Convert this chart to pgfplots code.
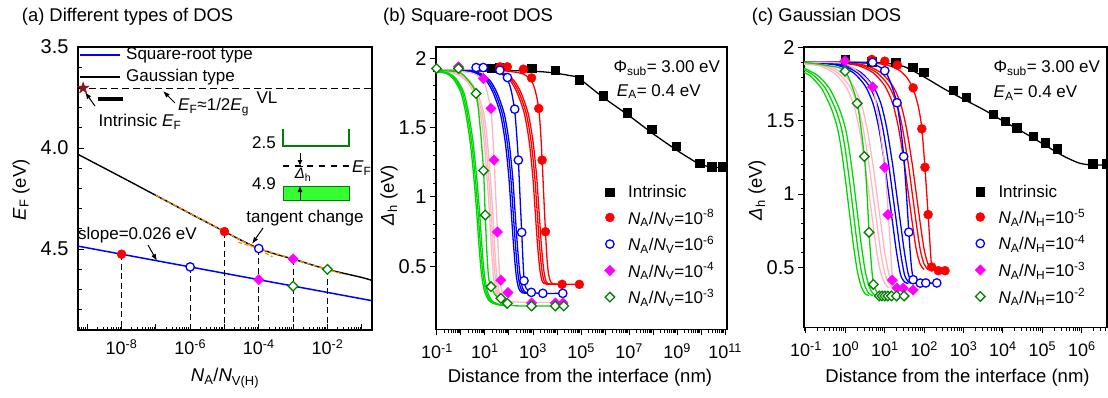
\documentclass[border=0pt]{standalone}
\usepackage{fontspec}
\setmainfont{Liberation Sans}
\usepackage{pgfplots}
\pgfplotsset{compat=1.18}
\usetikzlibrary{arrows.meta}

\definecolor{cred}{RGB}{255,0,0}
\definecolor{cblue}{RGB}{0,0,255}
\definecolor{cpink}{RGB}{255,182,193}
\definecolor{cgreen}{RGB}{0,215,0}
\definecolor{cmag}{RGB}{255,0,255}
\definecolor{cdgreen}{RGB}{0,128,0}
\definecolor{corange}{RGB}{255,140,0}
\definecolor{cstar}{RGB}{140,20,20}
\definecolor{cinset}{RGB}{51,255,51}

\pgfdeclareplotmark{dia}{%
  \pgfpathmoveto{\pgfqpoint{0pt}{\pgfplotmarksize}}%
  \pgfpathlineto{\pgfqpoint{\pgfplotmarksize}{0pt}}%
  \pgfpathlineto{\pgfqpoint{0pt}{-\pgfplotmarksize}}%
  \pgfpathlineto{\pgfqpoint{-\pgfplotmarksize}{0pt}}%
  \pgfpathclose\pgfusepathqstroke}
\pgfdeclareplotmark{dia*}{%
  \pgfpathmoveto{\pgfqpoint{0pt}{\pgfplotmarksize}}%
  \pgfpathlineto{\pgfqpoint{\pgfplotmarksize}{0pt}}%
  \pgfpathlineto{\pgfqpoint{0pt}{-\pgfplotmarksize}}%
  \pgfpathlineto{\pgfqpoint{-\pgfplotmarksize}{0pt}}%
  \pgfpathclose\pgfusepathqfillstroke}
\pgfdeclareplotmark{fstar}{%
  \pgfpathmoveto{\pgfpointpolar{90}{\pgfplotmarksize}}%
  \pgfpathlineto{\pgfpointpolar{126}{0.4\pgfplotmarksize}}%
  \pgfpathlineto{\pgfpointpolar{162}{\pgfplotmarksize}}%
  \pgfpathlineto{\pgfpointpolar{198}{0.4\pgfplotmarksize}}%
  \pgfpathlineto{\pgfpointpolar{234}{\pgfplotmarksize}}%
  \pgfpathlineto{\pgfpointpolar{270}{0.4\pgfplotmarksize}}%
  \pgfpathlineto{\pgfpointpolar{306}{\pgfplotmarksize}}%
  \pgfpathlineto{\pgfpointpolar{342}{0.4\pgfplotmarksize}}%
  \pgfpathlineto{\pgfpointpolar{18}{\pgfplotmarksize}}%
  \pgfpathlineto{\pgfpointpolar{54}{0.4\pgfplotmarksize}}%
  \pgfpathclose\pgfusepathqfillstroke}

\newcommand\mkminor[3]{%
  \gdef#1{}%
  \foreach \n in {#2,...,#3}{%
    \foreach \m in {0.30103,0.47712,0.60206,0.69897,0.77815,0.84510,0.90309,0.95424}{%
      \pgfmathparse{\n+\m}%
      \ifx#1\empty\xdef#1{\pgfmathresult}\else\xdef#1{#1,\pgfmathresult}\fi
    }%
  }%
}
\mkminor\minorA{-10}{-1}
\mkminor\minorB{-2}{11}
\mkminor\minorC{-2}{7}

\newcommand\fT{\fontsize{18.4}{22}\selectfont}
\newcommand\fL{\fontsize{18.5}{22}\selectfont}
\newcommand\fA{\fontsize{17}{20}\selectfont}
\newcommand\fK{\fontsize{18}{21}\selectfont}
\newcommand\fY{\fontsize{20}{23}\selectfont}
\newcommand\fS{\fontsize{15}{18}\selectfont}

\pgfplotsset{
  panel/.style={scale only axis, anchor=south west,
    xtick pos=bottom, ytick pos=left,
    xticklabel style={font=\fK}, yticklabel style={font=\fY},
    major tick length=6pt, minor tick length=3.5pt,
    tick style={black, line width=1pt},
    axis line style={line width=1.5pt},
  },
  cv/.style={line width=1.3pt, smooth, tension=0.45, mark=none, forget plot},
  mSq/.style={only marks, mark=square*, color=black, mark size=4.2pt},
  mRed/.style={only marks, mark=*, color=cred, mark size=4.5pt},
  mBlue/.style={only marks, mark=*, draw=cblue, fill=white, line width=1.3pt, mark size=4.2pt},
  mMag/.style={only marks, mark=dia*, color=cmag, mark size=5.2pt},
  mGrn/.style={only marks, mark=dia*, draw=cdgreen, fill=white, line width=1.3pt, mark size=4.8pt},
  vdash/.style={black, line width=1.2pt, dash pattern=on 6pt off 3.5pt, forget plot},
}

\begin{document}
\begin{tikzpicture}[x=1pt,y=1pt]
\path[use as bounding box] (0,0) rectangle (1108,397);

% ---------------- (a) ----------------
\begin{axis}[panel, at={(78pt,67pt)}, width=294pt, height=283pt,
  xmin=-9.27, xmax=-0.70, ymin=3.5, ymax=4.9, y dir=reverse,
  tick align=inside, axis line style={line width=1.2pt},
  xtick={-9,-8,-7,-6,-5,-4,-3,-2,-1},
  xticklabels={{},{10\textsuperscript{-8}},{},{10\textsuperscript{-6}},{},{10\textsuperscript{-4}},{},{10\textsuperscript{-2}},{}},
  minor xtick/.expanded={\minorA},
  ytick={3.5,4.0,4.5}, yticklabels={3.5,4.0,4.5},
  minor ytick={3.6,3.7,3.8,3.9,4.1,4.2,4.3,4.4,4.6,4.7,4.8},
  xticklabel style={yshift=-6pt}, yticklabel style={xshift=-6pt},
]
% Square-root type
\addplot[cblue, line width=1.5pt, forget plot] coordinates {(-9.27,4.485)(-0.70,4.755)};
% Gaussian type
\addplot[black, line width=1.4pt, smooth, tension=0.5, forget plot] coordinates {
 (-9.27,4.031)(-8,4.144)(-7,4.234)(-6,4.324)(-5,4.413)(-4.5,4.457)(-4,4.497)(-3.5,4.525)(-3,4.549)(-2,4.600)(-1,4.640)(-0.7,4.655)};
\addplot[corange, line width=1.2pt, dash pattern=on 4pt off 2.5pt, forget plot] coordinates {(-7,4.234)(-3.6,4.538)};
\addplot[corange, line width=1.2pt, dash pattern=on 4pt off 2.5pt, forget plot] coordinates {(-4.6,4.466)(-1.5,4.626)};
\addplot[black, line width=1.2pt, dash pattern=on 7pt off 4pt, forget plot] coordinates {(-9.27,3.704)(-0.70,3.704)};
\addplot[vdash] coordinates {(-8,4.525)(-8,4.9)};
\addplot[vdash] coordinates {(-6,4.588)(-6,4.9)};
\addplot[vdash] coordinates {(-5,4.413)(-5,4.9)};
\addplot[vdash] coordinates {(-4,4.497)(-4,4.9)};
\addplot[vdash] coordinates {(-3,4.549)(-3,4.9)};
\addplot[vdash] coordinates {(-2,4.600)(-2,4.9)};
\addplot[only marks, mark=fstar, mark size=6pt, color=cstar, forget plot] coordinates {(-9.12,3.703)};
\addplot[mRed, forget plot] coordinates {(-8,4.525)(-5,4.413)};
\addplot[mBlue, forget plot] coordinates {(-6,4.588)(-4,4.497)};
\addplot[mMag, forget plot] coordinates {(-4,4.651)(-3,4.549)};
\addplot[mGrn, forget plot] coordinates {(-3,4.683)(-2,4.600)};
\end{axis}

% ---------------- (b) ----------------
\begin{axis}[panel, at={(436pt,67.7pt)}, width=291pt, height=282.3pt,
  xmin=-1.04, xmax=11.08, ymin=0.046, ymax=2.08,
  tick align=outside,
  xtick={-1,0,1,2,3,4,5,6,7,8,9,10,11},
  xticklabels={{10\textsuperscript{-1}},{},{10\textsuperscript{1}},{},{10\textsuperscript{3}},{},{10\textsuperscript{5}},{},{10\textsuperscript{7}},{},{10\textsuperscript{9}},{},{10\textsuperscript{11}}},
  minor xtick/.expanded={\minorB},
  ytick={0.5,1,1.5,2}, yticklabels={0.5,1,1.5,2}, minor y tick num=4,
  xticklabel style={yshift=-5pt},
  legend style={at={(axis description cs:0.579,0.515)}, anchor=north west, draw=none, fill=none,
    font=\fA, row sep=8.5pt, inner sep=0pt, column sep=12pt, nodes={inner sep=1pt}},
  legend cell align=left,
]
% intrinsic curve
\addplot[cv, black] coordinates {(-1.04,1.91)(2,1.91)(3,1.905)(3.5,1.9)(4,1.89)(4.5,1.875)(4.9,1.855)(5.9,1.72)(7,1.585)(8,1.455)(9,1.335)(9.5,1.28)(9.9,1.24)(10.4,1.215)(11.08,1.21)};
% red curves
\addplot[cv, cred] coordinates {(-1.04,1.91)(1.5,1.91)(2.0,1.905)(2.6,1.885)(2.94,1.835)(3.1,1.76)(3.24,1.637)(3.32,1.46)(3.38,1.265)(3.45,1.0)(3.52,0.749)(3.58,0.56)(3.65,0.44)(3.75,0.385)(3.9,0.372)(4.21,0.370)(4.93,0.370)};
\addplot[cv, cred] coordinates {(-1.04,1.91)(1.3,1.905)(1.8,1.89)(2.2,1.84)(2.5,1.75)(2.8,1.6)(3.0,1.4)(3.15,1.15)(3.25,0.9)(3.35,0.65)(3.45,0.47)(3.55,0.39)(3.7,0.372)(4.0,0.37)};
\addplot[cv, cred] coordinates {(-1.04,1.91)(1.22,1.905)(1.72,1.89)(2.12,1.84)(2.42,1.75)(2.72,1.6)(2.92,1.4)(3.07,1.15)(3.17,0.9)(3.27,0.65)(3.37,0.47)(3.47,0.39)(3.62,0.372)(4.0,0.37)};
\addplot[cv, cred] coordinates {(-1.04,1.91)(1.14,1.905)(1.64,1.89)(2.04,1.84)(2.34,1.75)(2.64,1.6)(2.84,1.4)(2.99,1.15)(3.09,0.9)(3.19,0.65)(3.29,0.47)(3.39,0.39)(3.54,0.372)(4.0,0.37)};
% blue curves
\addplot[cv, cblue] coordinates {(-1.04,1.91)(1.0,1.91)(1.62,1.895)(1.935,1.845)(2.1,1.76)(2.238,1.62)(2.32,1.45)(2.39,1.265)(2.46,1.0)(2.53,0.744)(2.58,0.55)(2.624,0.42)(2.7,0.345)(2.93,0.312)(3.41,0.305)(4.24,0.305)};
\addplot[cv, cblue] coordinates {(-1.04,1.91)(0.3,1.905)(0.8,1.89)(1.2,1.84)(1.5,1.75)(1.8,1.6)(2.0,1.4)(2.15,1.15)(2.25,0.9)(2.35,0.65)(2.45,0.45)(2.55,0.35)(2.7,0.31)(3.0,0.305)};
\addplot[cv, cblue] coordinates {(-1.04,1.91)(0.22,1.905)(0.72,1.89)(1.12,1.84)(1.42,1.75)(1.72,1.6)(1.92,1.4)(2.07,1.15)(2.17,0.9)(2.27,0.65)(2.37,0.45)(2.47,0.35)(2.62,0.31)(3.0,0.305)};
\addplot[cv, cblue] coordinates {(-1.04,1.91)(0.14,1.905)(0.64,1.89)(1.04,1.84)(1.34,1.75)(1.64,1.6)(1.84,1.4)(1.99,1.15)(2.09,0.9)(2.19,0.65)(2.29,0.45)(2.39,0.35)(2.54,0.31)(3.0,0.305)};
% pink curves
\addplot[cv, cpink] coordinates {(-1.04,1.91)(-0.1,1.905)(0.5,1.89)(0.93,1.84)(1.1,1.75)(1.25,1.62)(1.32,1.45)(1.38,1.265)(1.45,1.0)(1.52,0.75)(1.57,0.55)(1.62,0.42)(1.7,0.32)(1.85,0.27)(2.1,0.245)(2.94,0.24)(4.25,0.24)};
\addplot[cv, cpink] coordinates {(-1.04,1.91)(-0.4,1.90)(0,1.88)(0.4,1.83)(0.7,1.74)(0.95,1.6)(1.1,1.4)(1.22,1.15)(1.32,0.9)(1.4,0.65)(1.48,0.45)(1.58,0.32)(1.72,0.27)(1.95,0.25)(2.2,0.245)};
\addplot[cv, cpink] coordinates {(-1.04,1.905)(-0.47,1.90)(-0.07,1.88)(0.33,1.83)(0.63,1.74)(0.88,1.6)(1.03,1.4)(1.15,1.15)(1.25,0.9)(1.33,0.65)(1.41,0.45)(1.51,0.32)(1.65,0.27)(1.88,0.25)(2.2,0.245)};
\addplot[cv, cpink] coordinates {(-1.04,1.905)(-0.54,1.90)(-0.14,1.88)(0.26,1.83)(0.56,1.74)(0.81,1.6)(0.96,1.4)(1.08,1.15)(1.18,0.9)(1.26,0.65)(1.34,0.45)(1.44,0.32)(1.58,0.27)(1.81,0.25)(2.2,0.245)};
% green curves
\addplot[cv, cgreen] coordinates {(-1.04,1.91)(-0.1,1.90)(0.3,1.84)(0.63,1.745)(0.8,1.5)(0.94,1.19)(1.01,0.87)(1.08,0.6)(1.15,0.42)(1.25,0.35)(1.45,0.29)(1.66,0.26)(1.93,0.233)(2.2,0.216)(2.94,0.214)(4.28,0.214)};
\addplot[cv, cgreen] coordinates {(-1.04,1.91)(-0.5,1.89)(-0.2,1.85)(0.1,1.76)(0.3,1.62)(0.5,1.4)(0.65,1.15)(0.77,0.9)(0.87,0.65)(0.97,0.45)(1.1,0.32)(1.3,0.25)(1.6,0.225)(1.9,0.216)};
\addplot[cv, cgreen] coordinates {(-1.04,1.905)(-0.56,1.89)(-0.26,1.85)(0.04,1.76)(0.24,1.62)(0.44,1.4)(0.59,1.15)(0.71,0.9)(0.81,0.65)(0.91,0.45)(1.04,0.32)(1.24,0.25)(1.54,0.225)(1.9,0.216)};
\addplot[cv, cgreen] coordinates {(-1.04,1.90)(-0.62,1.89)(-0.32,1.85)(-0.02,1.76)(0.18,1.62)(0.38,1.4)(0.53,1.15)(0.65,0.9)(0.75,0.65)(0.85,0.45)(0.98,0.32)(1.18,0.25)(1.48,0.225)(1.9,0.216)};
% markers
\addplot[mSq] coordinates {(1.25,1.927)(1.59,1.934)(2.94,1.927)(3.93,1.915)(4.93,1.843)(5.93,1.730)(6.93,1.608)(7.95,1.488)(8.96,1.365)(9.94,1.243)(10.44,1.219)(10.89,1.219)};
\addlegendentry{Intrinsic}
\addplot[mRed] coordinates {(1.62,1.937)(1.93,1.937)(2.6,1.92)(2.94,1.857)(3.24,1.637)(3.38,1.265)(3.52,0.749)(4.21,0.370)(4.93,0.370)};
\addlegendentry{\textit{N}\textsubscript{A}/\textit{N}\textsubscript{V}=10\textsuperscript{-8}}
\addplot[mBlue] coordinates {(0.63,1.932)(0.93,1.932)(1.62,1.913)(1.935,1.86)(2.238,1.632)(2.39,1.265)(2.53,0.744)(2.624,0.396)(2.93,0.312)(3.41,0.305)(4.24,0.305)};
\addlegendentry{\textit{N}\textsubscript{A}/\textit{N}\textsubscript{V}=10\textsuperscript{-6}}
\addplot[mMag] coordinates {(-0.10,1.937)(0.93,1.853)(1.25,1.637)(1.38,1.265)(1.52,0.747)(1.66,0.40)(1.96,0.31)(2.94,0.236)(3.93,0.236)(4.25,0.236)};
\addlegendentry{\textit{N}\textsubscript{A}/\textit{N}\textsubscript{V}=10\textsuperscript{-4}}
\addplot[mGrn] coordinates {(-1.02,1.925)(-0.10,1.925)(0.63,1.745)(0.94,1.19)(1.01,0.869)(1.25,0.353)(1.66,0.269)(1.93,0.233)(2.94,0.214)(3.93,0.214)(4.28,0.214)};
\addlegendentry{\textit{N}\textsubscript{A}/\textit{N}\textsubscript{V}=10\textsuperscript{-3}}
\end{axis}

% ---------------- (c) ----------------
\begin{axis}[panel, at={(804pt,69.7pt)}, width=303pt, height=280.3pt,
  xmin=-1.05, xmax=6.64, ymin=0.09, ymax=2.005,
  tick align=outside,
  xtick={-1,0,1,2,3,4,5,6},
  xticklabels={{10\textsuperscript{-1}},{10\textsuperscript{0}},{10\textsuperscript{1}},{10\textsuperscript{2}},{10\textsuperscript{3}},{10\textsuperscript{4}},{10\textsuperscript{5}},{10\textsuperscript{6}}},
  minor xtick/.expanded={\minorC},
  ytick={0.5,1,1.5,2}, yticklabels={0.5,1,1.5,2}, minor y tick num=4,
  xticklabel style={yshift=-5pt},
  legend style={at={(axis description cs:0.564,0.513)}, anchor=north west, draw=none, fill=none,
    font=\fA, row sep=8.5pt, inner sep=0pt, column sep=12pt, nodes={inner sep=1pt}},
  legend cell align=left,
]
\addplot[cv, black] coordinates {(-1.05,1.90)(0.5,1.90)(1.0,1.895)(1.5,1.87)(2.0,1.80)(2.5,1.72)(3.0,1.648)(3.5,1.578)(4.0,1.50)(4.5,1.425)(5.0,1.345)(5.5,1.265)(5.9,1.215)(6.2,1.20)(6.64,1.20)};
% red
\addplot[cv, cred] coordinates {(-1.05,1.90)(0,1.90)(0.67,1.895)(1.0,1.885)(1.32,1.855)(1.55,1.8)(1.72,1.72)(1.85,1.6)(1.94,1.45)(2.02,1.18)(2.10,0.86)(2.15,0.65)(2.19,0.51)(2.27,0.485)(2.36,0.48)(2.53,0.477)};
\addplot[cv, cred] coordinates {(-1.05,1.90)(0,1.895)(0.5,1.88)(0.9,1.83)(1.2,1.74)(1.4,1.62)(1.55,1.45)(1.7,1.2)(1.8,1.0)(1.9,0.8)(2.0,0.62)(2.1,0.52)(2.2,0.485)};
\addplot[cv, cred] coordinates {(-1.05,1.90)(-0.1,1.895)(0.4,1.88)(0.8,1.83)(1.1,1.74)(1.3,1.62)(1.45,1.45)(1.6,1.2)(1.7,1.0)(1.8,0.8)(1.9,0.62)(2.0,0.52)(2.1,0.485)};
\addplot[cv, cred] coordinates {(-1.05,1.895)(-0.2,1.895)(0.3,1.88)(0.7,1.83)(1.0,1.74)(1.2,1.62)(1.35,1.45)(1.5,1.2)(1.6,1.0)(1.7,0.8)(1.8,0.62)(1.9,0.52)(2.0,0.485)};
% blue
\addplot[cv, cblue] coordinates {(-1.05,1.90)(0,1.90)(0.69,1.89)(1.0,1.84)(1.15,1.76)(1.30,1.63)(1.40,1.46)(1.48,1.26)(1.55,1.0)(1.61,0.74)(1.67,0.52)(1.72,0.43)(1.8,0.40)(1.88,0.392)(2.32,0.392)};
\addplot[cv, cblue] coordinates {(-1.05,1.90)(-0.5,1.895)(0,1.88)(0.4,1.83)(0.7,1.74)(0.9,1.62)(1.05,1.45)(1.2,1.2)(1.3,1.0)(1.4,0.8)(1.5,0.6)(1.6,0.45)(1.7,0.40)(1.8,0.39)};
\addplot[cv, cblue] coordinates {(-1.05,1.90)(-0.6,1.895)(-0.1,1.88)(0.3,1.83)(0.6,1.74)(0.8,1.62)(0.95,1.45)(1.1,1.2)(1.2,1.0)(1.3,0.8)(1.4,0.6)(1.5,0.45)(1.6,0.40)(1.7,0.39)};
\addplot[cv, cblue] coordinates {(-1.05,1.895)(-0.7,1.895)(-0.2,1.88)(0.2,1.83)(0.5,1.74)(0.7,1.62)(0.85,1.45)(1.0,1.2)(1.1,1.0)(1.2,0.8)(1.3,0.6)(1.4,0.45)(1.5,0.40)(1.6,0.39)};
% pink
\addplot[cv, cpink] coordinates {(-1.05,1.90)(-0.5,1.90)(-0.01,1.89)(0.35,1.83)(0.69,1.73)(0.85,1.5)(1.0,1.18)(1.09,0.86)(1.15,0.6)(1.2,0.42)(1.32,0.36)(1.47,0.358)(1.72,0.345)};
\addplot[cv, cpink] coordinates {(-1.05,1.895)(-0.5,1.88)(-0.1,1.83)(0.2,1.74)(0.4,1.62)(0.55,1.45)(0.7,1.2)(0.8,1.0)(0.9,0.8)(1.0,0.6)(1.1,0.46)(1.2,0.39)(1.3,0.36)};
\addplot[cv, cpink] coordinates {(-1.05,1.89)(-0.6,1.88)(-0.2,1.83)(0.1,1.74)(0.3,1.62)(0.45,1.45)(0.6,1.2)(0.7,1.0)(0.8,0.8)(0.9,0.6)(1.0,0.46)(1.1,0.39)(1.2,0.36)};
\addplot[cv, cpink] coordinates {(-1.05,1.885)(-0.7,1.88)(-0.3,1.83)(0.0,1.74)(0.2,1.62)(0.35,1.45)(0.5,1.2)(0.6,1.0)(0.7,0.8)(0.8,0.6)(0.9,0.46)(1.0,0.39)(1.1,0.36)};
% green
\addplot[cv, cgreen] coordinates {(-1.05,1.90)(-0.5,1.88)(-0.01,1.84)(0.3,1.62)(0.48,1.26)(0.55,1.0)(0.6,0.74)(0.66,0.52)(0.71,0.39)(0.8,0.33)(0.92,0.306)(1.49,0.304)};
\addplot[cv, cgreen] coordinates {(-1.05,1.86)(-0.7,1.81)(-0.4,1.72)(-0.15,1.58)(0,1.45)(0.1,1.3)(0.2,1.1)(0.3,0.88)(0.4,0.66)(0.5,0.48)(0.6,0.37)(0.7,0.32)(0.8,0.306)};
\addplot[cv, cgreen] coordinates {(-1.05,1.85)(-0.8,1.81)(-0.5,1.72)(-0.25,1.58)(-0.1,1.45)(0,1.3)(0.1,1.1)(0.2,0.88)(0.3,0.66)(0.4,0.48)(0.5,0.37)(0.6,0.32)(0.7,0.306)};
\addplot[cv, cgreen] coordinates {(-1.05,1.83)(-0.9,1.81)(-0.6,1.72)(-0.35,1.58)(-0.2,1.45)(-0.1,1.3)(0,1.1)(0.1,0.88)(0.2,0.66)(0.3,0.48)(0.4,0.37)(0.5,0.32)(0.6,0.306)};
% markers
\addplot[mSq] coordinates {(-0.01,1.92)(0.67,1.905)(1.28,1.90)(1.71,1.867)(1.99,1.833)(2.74,1.71)(3.06,1.662)(3.75,1.544)(4.05,1.498)(4.35,1.453)(4.77,1.395)(5.07,1.35)(5.38,1.309)(6.28,1.209)(6.63,1.209)};
\addlegendentry{Intrinsic}
\addplot[mRed] coordinates {(0.67,1.92)(1.0,1.908)(1.32,1.881)(1.72,1.726)(1.94,1.446)(2.02,1.183)(2.10,0.86)(2.19,0.502)(2.36,0.477)(2.53,0.477)};
\addlegendentry{\textit{N}\textsubscript{A}/\textit{N}\textsubscript{H}=10\textsuperscript{-5}}
\addplot[mBlue] coordinates {(0.69,1.90)(1.0,1.843)(1.31,1.624)(1.48,1.257)(1.61,0.74)(1.72,0.415)(1.90,0.392)(2.04,0.393)(2.32,0.393)};
\addlegendentry{\textit{N}\textsubscript{A}/\textit{N}\textsubscript{H}=10\textsuperscript{-4}}
\addplot[mMag] coordinates {(-0.01,1.91)(0.69,1.732)(1.0,1.183)(1.08,0.86)(1.19,0.412)(1.31,0.358)(1.47,0.358)(1.72,0.345)};
\addlegendentry{\textit{N}\textsubscript{A}/\textit{N}\textsubscript{H}=10\textsuperscript{-3}}
\addplot[mGrn] coordinates {(-0.01,1.84)(0.30,1.62)(0.48,1.257)(0.60,0.739)(0.71,0.383)(0.86,0.304)(0.93,0.304)(1.0,0.304)(1.08,0.304)(1.17,0.304)(1.30,0.304)(1.49,0.304)};
\addlegendentry{\textit{N}\textsubscript{A}/\textit{N}\textsubscript{H}=10\textsuperscript{-2}}
\end{axis}

% ---------------- titles and labels ----------------
\node[anchor=west, font=\fT, inner sep=0pt] at (21.7,380.3) {(a) Different types of DOS};
\node[anchor=west, font=\fT, inner sep=0pt] at (383,380.3) {(b) Square-root DOS};
\node[anchor=west, font=\fT, inner sep=0pt] at (751.7,380.3) {(c) Gaussian DOS};

\node[rotate=90, font=\fL, inner sep=0pt] at (21,207) {\textit{E}\textsubscript{F} (eV)};
\node[rotate=90, font=\fL, inner sep=0pt] at (389,202) {\textit{Δ}\textsubscript{h} (eV)};
\node[rotate=90, font=\fL, inner sep=0pt] at (757,207) {\textit{Δ}\textsubscript{h} (eV)};

\node[font=\fL, inner sep=0pt] at (225,19) {\textit{N}\textsubscript{A}/\textit{N}\textsubscript{V(H)}};
\node[font=\fL, inner sep=0pt] at (580,19) {Distance from the interface (nm)};
\node[font=\fL, inner sep=0pt] at (957.5,19) {Distance from the interface (nm)};

% (a) legend
\draw[cblue, line width=1.5pt] (80,342) -- (120,342);
\node[anchor=west, font=\fA, inner sep=0pt] at (126,342) {Square-root type};
\draw[black, line width=1.4pt] (80,320) -- (120,320);
\node[anchor=west, font=\fA, inner sep=0pt] at (126,320) {Gaussian type};

% (b),(c) parameter text
\node[anchor=west, font=\fA, inner sep=0pt] at (613.3,328.7) {Φ\textsubscript{sub}= 3.00 eV};
\node[anchor=west, font=\fA, inner sep=0pt] at (616.7,305.3) {\textit{E}\textsubscript{A}= 0.4 eV};
\node[anchor=west, font=\fA, inner sep=0pt] at (993.3,328.7) {Φ\textsubscript{sub}= 3.00 eV};
\node[anchor=west, font=\fA, inner sep=0pt] at (993.3,303.7) {\textit{E}\textsubscript{A}= 0.4 eV};

% (a) annotations
\draw[line width=4pt] (98,298) -- (123,298);
\draw[-{Latex[length=7pt,width=5pt]}, line width=1pt] (95,291) -- (85,305);
\draw[-{Latex[length=7pt,width=5pt]}, line width=1pt] (175,294) -- (163,306);
\node[anchor=west, font=\fA, inner sep=0pt] at (178,290) {\textit{E}\textsubscript{F}≈1/2\textit{E}\textsubscript{g}};
\node[font=\fA, inner sep=0pt] at (267,299) {VL};
\node[font=\fA, inner sep=0pt] at (140,275) {Intrinsic \textit{E}\textsubscript{F}};
% inset
\draw[cdgreen, line width=1.2pt] (283,268) -- (283,251) -- (349,251) -- (349,268);
\draw[line width=1.2pt, dash pattern=on 6pt off 6pt] (283,231) -- (350,231);
\node[anchor=west, font=\fA, inner sep=0pt] at (352,229) {\textit{E}\textsubscript{F}};
\draw[fill=cinset, draw=cdgreen, line width=1pt] (283,197) rectangle (349,211);
\node[anchor=east, font=\fA, inner sep=0pt] at (276,254) {2.5};
\node[anchor=east, font=\fA, inner sep=0pt] at (276,213) {4.9};
\draw[-{Latex[length=6pt,width=5pt]}, line width=1pt] (300,244) -- (300,231);
\draw[line width=1pt] (297,231) -- (303,231);
\draw[-{Latex[length=6pt,width=5pt]}, line width=1pt] (300,197) -- (300,211);
\node[font=\fS, inner sep=0pt] at (303,222) {\textit{Δ}\textsubscript{h}};
\node[font=\fA, inner sep=0pt] at (305,178.7) {tangent change};
\draw[-{Latex[length=7pt,width=5pt]}, line width=1pt] (263,169) -- (252,153);
\node[font=\fA, inner sep=0pt] at (137.5,162) {slope=0.026 eV};
\draw[-{Latex[length=7pt,width=5pt]}, line width=1pt] (148,152) -- (157,136);
\end{tikzpicture}
\end{document}
